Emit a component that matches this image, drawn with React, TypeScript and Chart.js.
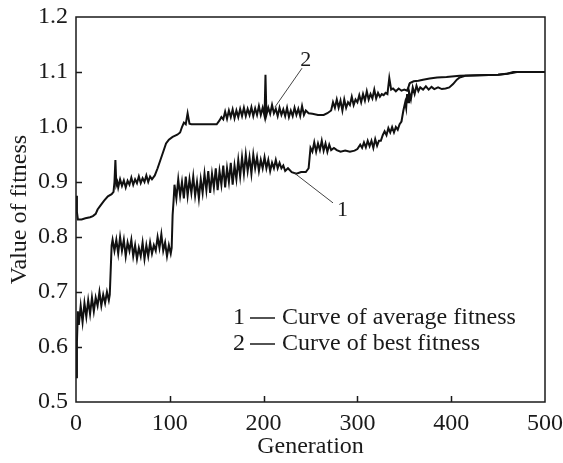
import React, { useEffect, useRef } from "react";
import { Chart, registerables } from "chart.js";

Chart.register(...registerables);

// Generation ticks and fitness ticks
const xTicks = [0, 100, 200, 300, 400, 500];
const yTicks = [0.5, 0.6, 0.7, 0.8, 0.9, 1.0, 1.1, 1.2];

// Curve 1: average fitness  [generation, value]
const avgFitness: [number, number][] = [
  [0, 0.545], [1, 0.61], [2, 0.665], [3, 0.64], [5, 0.675], [7, 0.645], [9, 0.68], [11, 0.655], [13, 0.685],
  [15, 0.66], [17, 0.69], [19, 0.665], [21, 0.69], [23, 0.675], [25, 0.70], [27, 0.675], [29, 0.695], [31, 0.68],
  [33, 0.70], [35, 0.685], [36, 0.695], [37, 0.74], [38, 0.785], [39, 0.795],
  [41, 0.775], [43, 0.795], [45, 0.77], [47, 0.80], [49, 0.775], [51, 0.795], [53, 0.765], [55, 0.79], [57, 0.775],
  [59, 0.795], [61, 0.765], [63, 0.785], [65, 0.76], [67, 0.78], [69, 0.765], [71, 0.79], [73, 0.76], [75, 0.785],
  [77, 0.765], [79, 0.79], [81, 0.77], [83, 0.785], [85, 0.775], [87, 0.80], [89, 0.78], [91, 0.805], [93, 0.775],
  [95, 0.79], [97, 0.765], [99, 0.785], [101, 0.77], [102, 0.78],
  [103, 0.84], [104, 0.865], [105, 0.895], [107, 0.87], [109, 0.905], [111, 0.875], [113, 0.90], [115, 0.87],
  [117, 0.91], [119, 0.875], [121, 0.905], [123, 0.88], [125, 0.91], [127, 0.875], [129, 0.90], [131, 0.87],
  [133, 0.905], [135, 0.88], [137, 0.915], [139, 0.885], [141, 0.92], [143, 0.88], [145, 0.915], [147, 0.89],
  [149, 0.925], [151, 0.885], [153, 0.92], [155, 0.895], [157, 0.93], [159, 0.89], [161, 0.925], [163, 0.90],
  [165, 0.935], [167, 0.895], [169, 0.93], [171, 0.905], [173, 0.94], [175, 0.91], [177, 0.945], [179, 0.915],
  [181, 0.95], [183, 0.92], [185, 0.945], [187, 0.915], [189, 0.95], [191, 0.925], [193, 0.945], [195, 0.92],
  [197, 0.94], [199, 0.925], [201, 0.945], [203, 0.925], [205, 0.94], [207, 0.92], [209, 0.935], [211, 0.925],
  [213, 0.94], [215, 0.925], [217, 0.935], [219, 0.925], [221, 0.93], [223, 0.92], [226, 0.925], [230, 0.918],
  [235, 0.915], [240, 0.918], [245, 0.918], [248, 0.925],
  [250, 0.962], [252, 0.955], [254, 0.972], [256, 0.955], [258, 0.97], [260, 0.958], [262, 0.975], [264, 0.957],
  [266, 0.97], [268, 0.955], [270, 0.968], [272, 0.958], [275, 0.962], [278, 0.958], [282, 0.955], [287, 0.957],
  [292, 0.955], [297, 0.957], [300, 0.96], [303, 0.968], [305, 0.962], [307, 0.972], [309, 0.963], [311, 0.975],
  [313, 0.965], [315, 0.975], [317, 0.962], [319, 0.978], [321, 0.966], [323, 0.975], [325, 0.975], [327, 0.985],
  [329, 0.992], [331, 0.985], [333, 0.998], [335, 0.99], [337, 1.0], [339, 0.99], [341, 1.0], [343, 0.995],
  [345, 1.005], [347, 1.01], [349, 1.03], [351, 1.045], [352, 1.035], [353, 1.06], [354, 1.045], [355, 1.065],
  [357, 1.05], [359, 1.072], [361, 1.06], [363, 1.075], [365, 1.065], [367, 1.072], [370, 1.068], [373, 1.074],
  [376, 1.068], [379, 1.073], [382, 1.069], [386, 1.072], [390, 1.069], [394, 1.07], [398, 1.072], [402, 1.078],
  [406, 1.086], [409, 1.09], [415, 1.093], [430, 1.094], [450, 1.095], [465, 1.098], [470, 1.1], [500, 1.1],
];

// Curve 2: best fitness  [generation, value]
const bestFitness: [number, number][] = [
  [0, 0.875], [1, 0.845], [2, 0.832], [6, 0.832], [10, 0.834], [15, 0.836], [18, 0.838], [21, 0.842], [23, 0.85],
  [26, 0.857], [30, 0.866], [34, 0.874], [38, 0.878], [40, 0.882], [41, 0.9], [42, 0.94], [43, 0.895], [44, 0.9],
  [45, 0.89], [47, 0.905], [49, 0.893], [51, 0.903], [53, 0.89], [55, 0.902], [57, 0.895], [59, 0.908], [61, 0.895],
  [63, 0.905], [65, 0.898], [67, 0.91], [69, 0.898], [71, 0.907], [73, 0.9], [75, 0.912], [77, 0.9], [79, 0.91],
  [81, 0.905], [84, 0.912], [87, 0.925], [90, 0.94], [93, 0.955], [96, 0.97], [99, 0.977], [103, 0.982],
  [108, 0.986], [111, 0.99], [113, 1.0], [115, 1.008], [117, 1.005], [119, 1.025], [121, 1.006], [123, 1.005],
  [150, 1.005], [153, 1.012], [155, 1.018], [157, 1.014], [159, 1.028], [161, 1.015], [163, 1.03], [165, 1.018],
  [167, 1.032], [169, 1.016], [171, 1.03], [173, 1.018], [175, 1.033], [177, 1.02], [179, 1.035], [181, 1.02],
  [183, 1.033], [185, 1.022], [187, 1.036], [189, 1.02], [191, 1.034], [193, 1.022], [195, 1.038], [197, 1.022],
  [199, 1.035], [201, 1.02], [202, 1.095], [203, 1.022], [205, 1.035], [207, 1.024], [209, 1.04], [211, 1.025],
  [213, 1.033], [215, 1.02], [217, 1.035], [219, 1.022], [221, 1.032], [223, 1.02], [225, 1.035], [227, 1.018],
  [229, 1.03], [231, 1.02], [233, 1.035], [235, 1.022], [237, 1.033], [239, 1.02], [241, 1.038], [243, 1.022],
  [245, 1.03], [248, 1.025], [252, 1.024], [258, 1.022], [264, 1.022], [268, 1.025], [272, 1.03], [274, 1.045],
  [276, 1.035], [278, 1.05], [280, 1.035], [282, 1.048], [284, 1.03], [286, 1.05], [288, 1.035], [290, 1.045],
  [292, 1.04], [294, 1.055], [296, 1.04], [298, 1.05], [300, 1.045], [302, 1.058], [304, 1.045], [306, 1.06],
  [308, 1.048], [310, 1.065], [312, 1.05], [314, 1.06], [316, 1.052], [318, 1.068], [320, 1.052], [322, 1.062],
  [324, 1.055], [326, 1.06], [328, 1.058], [330, 1.062], [332, 1.06], [334, 1.089], [336, 1.068], [338, 1.07],
  [341, 1.065], [344, 1.07], [347, 1.066], [350, 1.068], [353, 1.066], [356, 1.08], [360, 1.083], [365, 1.084],
  [370, 1.086], [377, 1.088], [385, 1.09], [395, 1.091], [409, 1.093], [430, 1.094], [450, 1.095], [460, 1.097],
  [466, 1.1], [500, 1.1],
];

// Legend lines and curve labels
const legendItems = ["1", "2"];
const legendTexts = ["Curve of average fitness", "Curve of best fitness"];

const FONT = '"Liberation Serif", "Times New Roman", serif';

const zeroPad = (s: any) => {
  s.paddingTop = 0;
  s.paddingBottom = 0;
  s.paddingLeft = 0;
  s.paddingRight = 0;
};

const decorPlugin = {
  id: "decor",
  afterDraw(chart: any) {
    const { ctx, chartArea: a, scales } = chart;
    const xs = scales.x;
    const ys = scales.y;
    ctx.save();
    // frame
    ctx.strokeStyle = "#1a1a1a";
    ctx.lineWidth = 1.5;
    ctx.strokeRect(a.left, a.top, a.right - a.left, a.bottom - a.top);
    // inward tick marks
    ctx.beginPath();
    xTicks.slice(1, -1).forEach((v) => {
      const px = Math.round(xs.getPixelForValue(v)) + 0.5;
      ctx.moveTo(px, a.bottom);
      ctx.lineTo(px, a.bottom - 6);
    });
    yTicks.slice(1, -1).forEach((v) => {
      const py = Math.round(ys.getPixelForValue(v)) + 0.5;
      ctx.moveTo(a.left, py);
      ctx.lineTo(a.left + 6, py);
    });
    ctx.stroke();

    // curve labels with leader lines
    ctx.strokeStyle = "#444";
    ctx.lineWidth = 1;
    ctx.beginPath();
    ctx.moveTo(xs.getPixelForValue(241), ys.getPixelForValue(1.107));
    ctx.lineTo(xs.getPixelForValue(212), ys.getPixelForValue(1.036));
    ctx.moveTo(xs.getPixelForValue(274), ys.getPixelForValue(0.862));
    ctx.lineTo(xs.getPixelForValue(233), ys.getPixelForValue(0.916));
    ctx.stroke();
    ctx.fillStyle = "#1a1a1a";
    ctx.font = `22px ${FONT}`;
    ctx.textAlign = "center";
    ctx.textBaseline = "middle";
    ctx.fillText("2", xs.getPixelForValue(245), ys.getPixelForValue(1.122));
    ctx.fillText("1", xs.getPixelForValue(284), ys.getPixelForValue(0.849));

    // legend
    ctx.font = `24px ${FONT}`;
    ctx.textAlign = "left";
    const lx = a.left + 157;
    const ly = a.top + 301;
    legendItems.forEach((item, i) => {
      const y = ly + i * 26;
      ctx.fillText(item, lx, y);
      ctx.beginPath();
      ctx.lineWidth = 1.5;
      ctx.strokeStyle = "#1a1a1a";
      ctx.moveTo(lx + 17, y);
      ctx.lineTo(lx + 42, y);
      ctx.stroke();
      ctx.fillText(legendTexts[i], lx + 49, y);
    });
    ctx.restore();
  },
};

export default function App() {
  const ref = useRef<HTMLCanvasElement | null>(null);
  useEffect(() => {
    if (!ref.current) return;
    const chart = new Chart(ref.current, {
      type: "line",
      data: {
        datasets: [
          {
            label: "Curve of average fitness",
            data: avgFitness.map(([x, y]) => ({ x, y })),
            borderColor: "#111",
            borderWidth: 2,
            pointRadius: 0,
            tension: 0,
            fill: false,
          },
          {
            label: "Curve of best fitness",
            data: bestFitness.map(([x, y]) => ({ x, y })),
            borderColor: "#111",
            borderWidth: 2,
            pointRadius: 0,
            tension: 0,
            fill: false,
          },
        ],
      },
      options: {
        responsive: false,
        animation: false,
        devicePixelRatio: 1,
        layout: { padding: { left: 0, top: 17, right: 18, bottom: 0 } },
        plugins: { legend: { display: false }, tooltip: { enabled: false } },
        scales: {
          x: {
            type: "linear",
            min: 0,
            max: 500,
            afterBuildTicks: (s: any) => {
              s.ticks = xTicks.map((v) => ({ value: v }));
            },
            afterFit: (s: any) => {
              s.height = 61;
              zeroPad(s);
            },
            grid: { display: false, drawTicks: false },
            border: { display: false },
            ticks: {
              color: "#1a1a1a",
              font: { family: FONT, size: 24 },
              padding: 7,
              maxRotation: 0,
            },
            title: {
              display: true,
              text: "Generation",
              color: "#1a1a1a",
              font: { family: FONT, size: 24 },
              padding: { top: 0, bottom: 2 },
            },
          },
          y: {
            type: "linear",
            min: 0.5,
            max: 1.2,
            afterBuildTicks: (s: any) => {
              s.ticks = yTicks.map((v) => ({ value: v }));
            },
            afterFit: (s: any) => {
              s.width = 76;
              zeroPad(s);
            },
            grid: { display: false, drawTicks: false },
            border: { display: false },
            ticks: {
              color: "#1a1a1a",
              font: { family: FONT, size: 24 },
              padding: 8,
              callback: (v: any) => Number(v).toFixed(1),
            },
            title: {
              display: true,
              text: "Value of fitness",
              color: "#1a1a1a",
              font: { family: FONT, size: 24 },
              padding: { top: 5, bottom: 0 },
            },
          },
        },
      },
      plugins: [decorPlugin],
    });
    return () => chart.destroy();
  }, []);
  return (
    <div style={{ position: "fixed", left: 0, top: 0, width: 563, height: 463, background: "#fff" }}>
      <canvas ref={ref} width={563} height={463} />
    </div>
  );
}
